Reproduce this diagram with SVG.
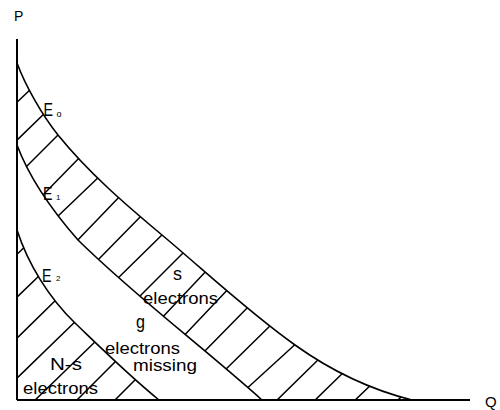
<svg xmlns="http://www.w3.org/2000/svg" width="500" height="410" viewBox="0 0 500 410">
<style>
.ax{stroke:#000;stroke-width:2;fill:none}
.cv{stroke:#000;stroke-width:1.6;fill:none}
.h{stroke:#000;stroke-width:1.5;fill:none}
.t{font-family:"Liberation Sans",Arial,sans-serif;fill:#000}
</style>
<defs>
<clipPath id="band1"><path d="M17,63 C25.7,86.4 42.3,115.5 58,135 C88.2,172.4 125.2,204.2 162,235 C205.7,271.6 248.5,312.1 295,345 C330,370 372,390 412,400 L262,400 C203,347 134.8,296 78,240 C53.6,212.2 30,179.8 17,145 Z"/></clipPath>
<clipPath id="band2"><path d="M17,230 C28,264 49,298 75,323 C103.8,350.6 128.2,374.8 159,400 L17,400 Z"/></clipPath>
</defs>
<rect width="500" height="410" fill="#fff"/>
<g id="axes">
<line class="ax" x1="17" y1="39" x2="17" y2="400"/>
<line class="ax" x1="17" y1="400" x2="470" y2="400"/>
<text class="t" x="14" y="21" font-size="14">P</text>
<text class="t" x="485" y="407" font-size="15">Q</text>
</g>
<g id="curves">
<path id="E0" class="cv" d="M17,63 C25.7,86.4 42.3,115.5 58,135 C88.2,172.4 125.2,204.2 162,235 C205.7,271.6 248.5,312.1 295,345 C330,370 372,390 412,400"/>
<path id="E1" class="cv" d="M17,145 C30,179.8 53.6,212.2 78,240 C134.8,296 203,347 262,400"/>
<path id="E2" class="cv" d="M17,230 C28,264 49,298 75,323 C103.8,350.6 128.2,374.8 159,400"/>
</g>
<g id="hatch-s" clip-path="url(#band1)">
<path class="h" d="M11,108 L33,87 M11,146 L49,109 M20,173 L64,129 M40,198 L84,153 M57,217 L103,173 M73,245 L123,193 M93,265 L145,212 M113,283 L167,230 M135,301 L188,248 M158,322 L210,267 M178,342 L232,285 M198,358 L253,302 M220,375 L275,321 M243,392 L300,340 M272,405 L323,355 M310,405 L348,368 M350,405 L375,381 M392,405 L407,392"/>
</g>
<g id="hatch-ns" clip-path="url(#band2)">
<path class="h" d="M12,259 L31,241 M12,302 L42,273 M12,343 L60,296 M12,383 L80,317 M30,405 L100,337 M72,405 L120,357 M110,405 L140,375"/>
</g>
<g id="labels">
<text class="t" x="43.5" y="116" font-size="18" textLength="9.5" lengthAdjust="spacingAndGlyphs">E</text>
<text class="t" x="56.5" y="117" font-size="9">o</text>
<text class="t" x="43" y="200" font-size="18" textLength="9.5" lengthAdjust="spacingAndGlyphs">E</text>
<text class="t" x="56" y="200" font-size="8">1</text>
<text class="t" x="42" y="282" font-size="18" textLength="9.5" lengthAdjust="spacingAndGlyphs">E</text>
<text class="t" x="56" y="281" font-size="8">2</text>
<text class="t" x="173" y="280" font-size="19" textLength="9" lengthAdjust="spacingAndGlyphs">s</text>
<text class="t" x="143" y="303.5" font-size="16" textLength="75" lengthAdjust="spacingAndGlyphs">electrons</text>
<text class="t" x="136" y="328" font-size="18" textLength="9" lengthAdjust="spacingAndGlyphs">g</text>
<text class="t" x="105" y="354" font-size="16" textLength="75" lengthAdjust="spacingAndGlyphs">electrons</text>
<text class="t" x="133" y="370.5" font-size="16" textLength="64" lengthAdjust="spacingAndGlyphs">missing</text>
<text class="t" x="50" y="370" font-size="17" textLength="32" lengthAdjust="spacingAndGlyphs">N-s</text>
<text class="t" x="23" y="394" font-size="16" textLength="75" lengthAdjust="spacingAndGlyphs">electrons</text>
</g>
</svg>
